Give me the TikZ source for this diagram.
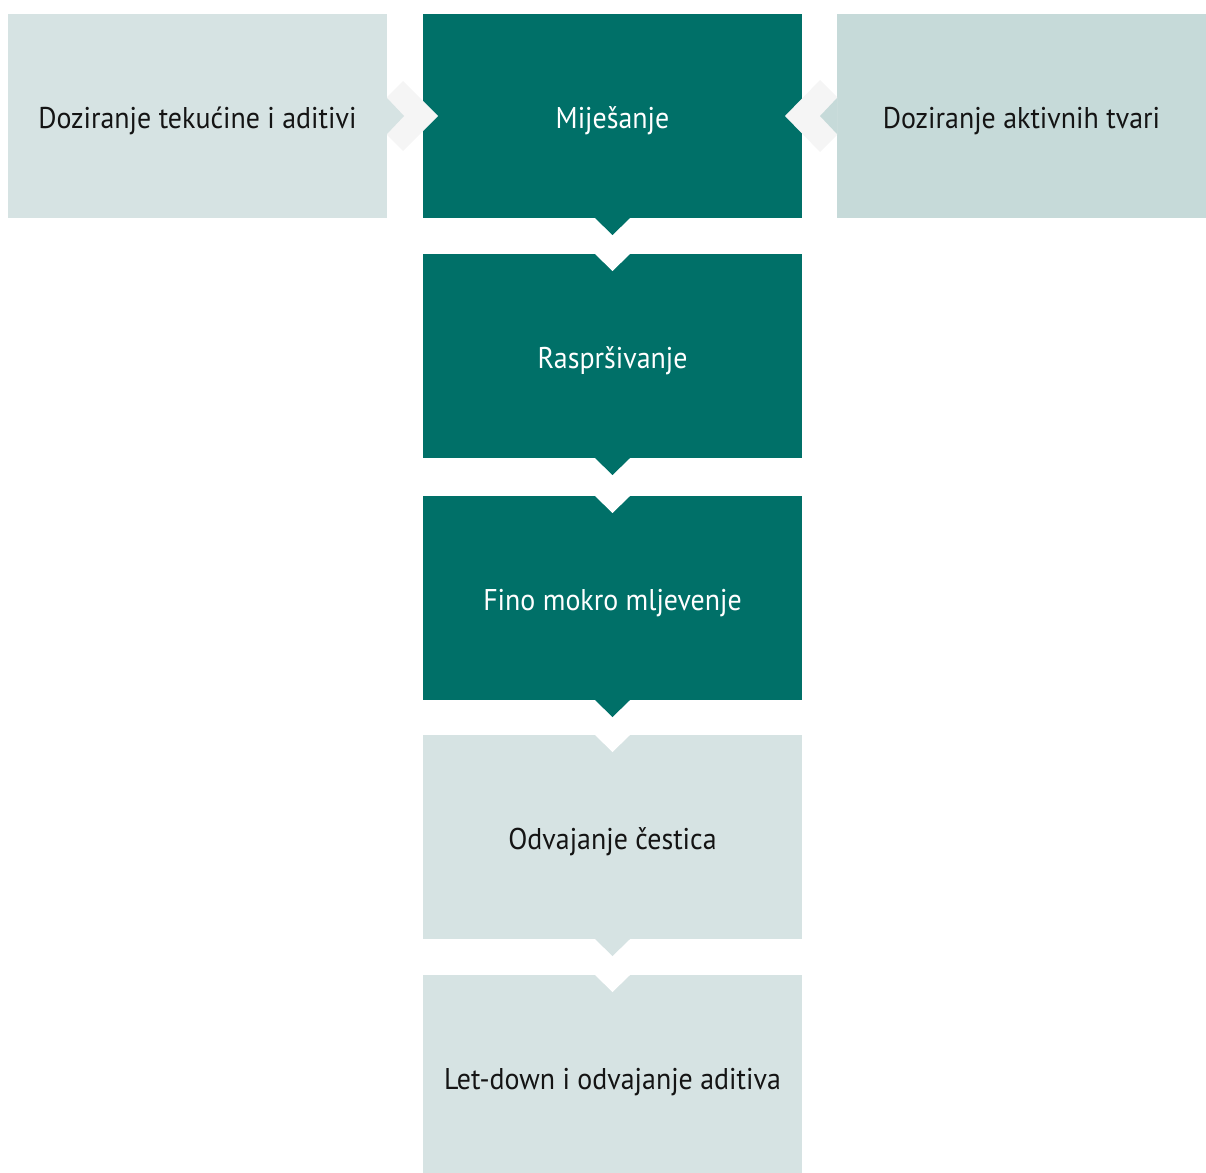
\documentclass[tikz,border=0pt]{standalone}
\usepackage{fontspec}
\setmainfont{PT Sans}[FakeStretch=0.93]
\usetikzlibrary{calc}
\definecolor{teal}{RGB}{0,112,104}
\definecolor{lightc}{RGB}{214,227,227}
\definecolor{rightc}{RGB}{198,218,217}
\definecolor{chev}{RGB}{245,245,245}
\definecolor{txt}{RGB}{20,20,20}
\newcommand{\lowtxt}[1]{\raisebox{-12pt}[0pt][0pt]{#1}}
\tikzset{
  box/.style={rectangle, inner sep=0pt, outer sep=0pt, minimum height=204pt, font=\fontsize{30}{35}\selectfont},
  sidebox/.style={box, minimum width=379pt},
  midbox/.style={box, minimum width=379pt},
  darkbox/.style={midbox, fill=teal, text=white},
  palebox/.style={midbox, fill=lightc, text=txt},
}
\begin{document}
\begin{tikzpicture}[x=1pt,y=-1pt]
\useasboundingbox (0,0) rectangle (1206,1172);
\begin{scope}
\clip (0,0) rectangle (1206,1172);
% boxes
\node[sidebox, fill=lightc, text=txt] (dl) at (197.5,116) {\lowtxt{Doziranje tekućine i aditivi}};
\node[sidebox, fill=rightc, text=txt, minimum width=369pt] (da) at (1021.5,116) {\lowtxt{Doziranje aktivnih tvari}};
\node[darkbox] (mi) at (612.5,116) {\lowtxt{Miješanje}};
\node[darkbox] (ra) at (612.5,356) {\lowtxt{Raspršivanje}};
\node[darkbox] (fi) at (612.5,598) {\lowtxt{Fino mokro mljevenje}};
\node[palebox] (od) at (612.5,837) {\lowtxt{Odvajanje čestica}};
\node[palebox] (ld) at (612.5,1077) {\lowtxt{Let-down i odvajanje aditiva}};
% side connectors: left
\fill[chev] ($(dl.east)+(0,-19)$) -- ($(dl.east)+(16,-35)$) -- ($(mi.west)+(15,0)$) -- ($(dl.east)+(16,35)$) -- ($(dl.east)+(0,19)$) -- cycle;
\fill[lightc] ($(dl.east)+(0,-18)$) -- ($(dl.east)+(17,0)$) -- ($(dl.east)+(0,18)$) -- cycle;
% side connectors: right
\fill[chev] ($(da.west)+(0,-19)$) -- ($(da.west)+(-17,-36)$) -- ($(mi.east)+(-17,0)$) -- ($(da.west)+(-17,36)$) -- ($(da.west)+(0,19)$) -- cycle;
\fill[rightc] ($(da.west)+(0,-18)$) -- ($(da.west)+(-17,0)$) -- ($(da.west)+(0,18)$) -- cycle;
% vertical connectors
\foreach \a/\b/\c in {mi/ra/teal, ra/fi/teal, fi/od/teal, od/ld/lightc}{
  \fill[\c] ($(\a.south)+(-17.5,0)$) -- ($(\a.south)+(0,17)$) -- ($(\a.south)+(17.5,0)$) -- cycle;
  \fill[white] ($(\b.north)+(-17.5,0)$) -- ($(\b.north)+(0,17)$) -- ($(\b.north)+(17.5,0)$) -- cycle;
}
\end{scope}
\end{tikzpicture}
\end{document}
